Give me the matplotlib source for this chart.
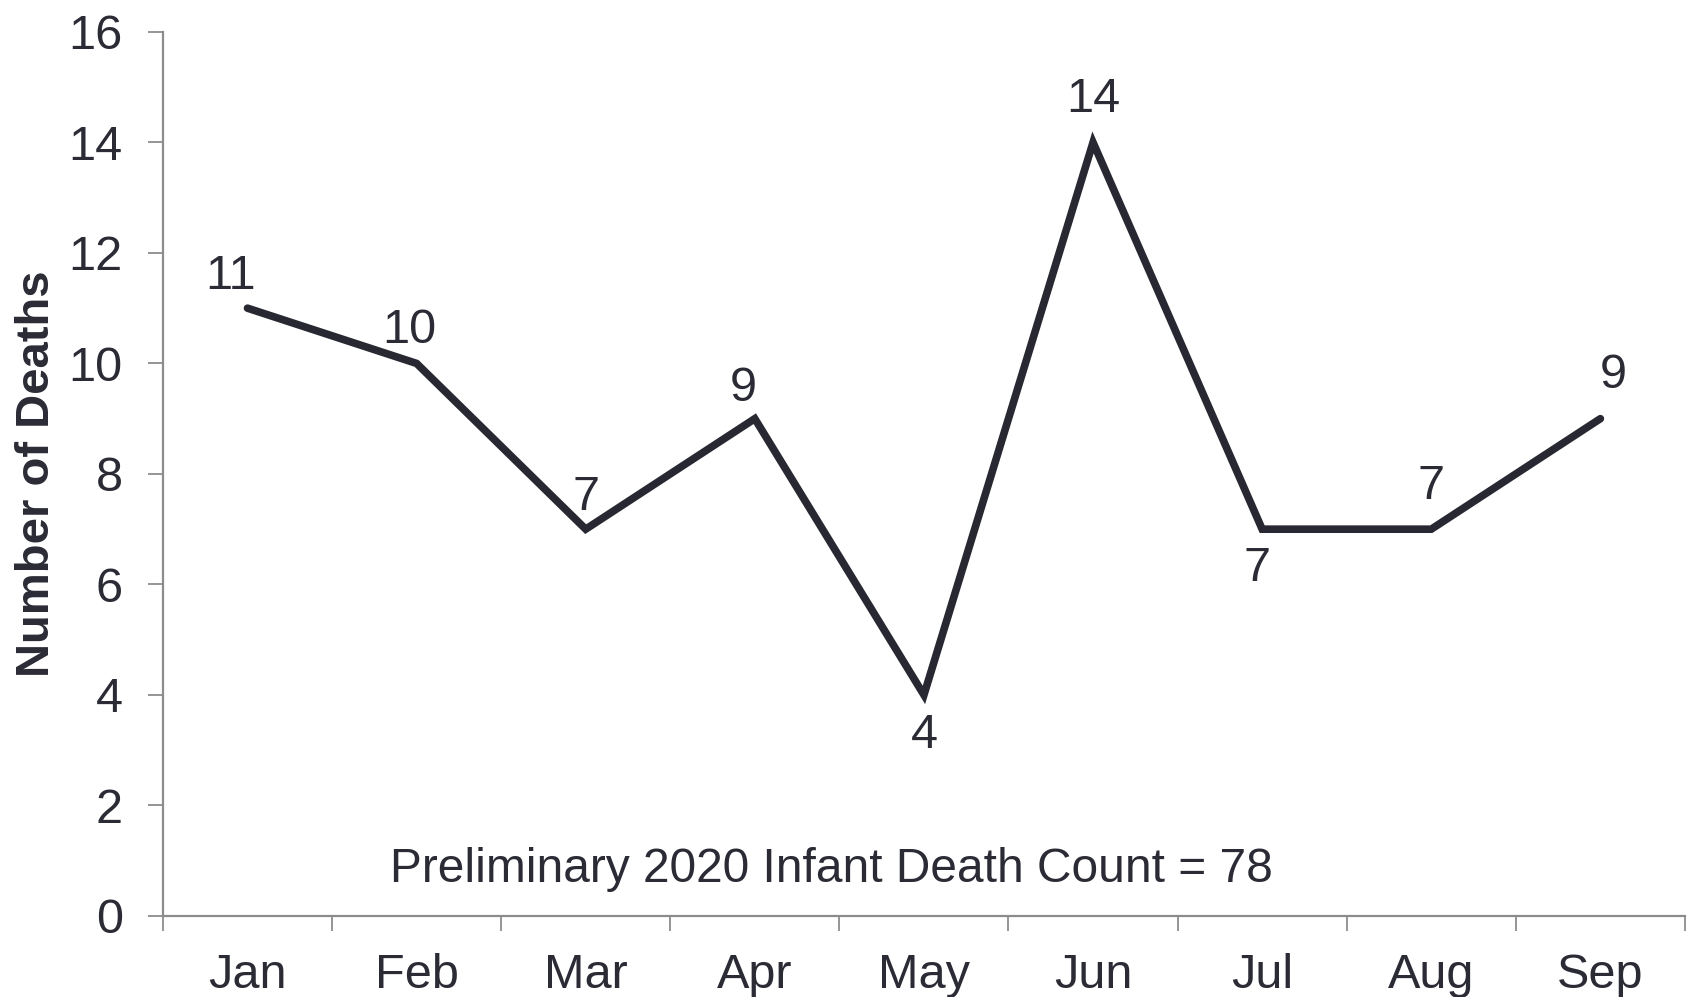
import matplotlib
matplotlib.use("Agg")
import matplotlib.pyplot as plt
import numpy as np

# 数据
months = ["Jan", "Feb", "Mar", "Apr", "May", "Jun", "Jul", "Aug", "Sep"]
deaths = [11, 10, 7, 9, 4, 14, 7, 7, 9]
yticks = [0, 2, 4, 6, 8, 10, 12, 14, 16]
note = "Preliminary 2020 Infant Death Count = 78"

# 标签偏移 (points)
label_offsets = [(-12, 23), (-5, 24), (0, 23), (-8, 22), (0, -29),
                 (0, 31), (-4, -28), (0, 31), (9, 31)]

plt.rcParams['font.family'] = ['Liberation Sans', 'DejaVu Sans']
text_color = "#2b2b36"
line_color = "#282833"
spine_color = "#8c8c8c"

fig = plt.figure(figsize=(16.9, 9.97), dpi=100)
ax = fig.add_axes([0.0964, 0.0813, 0.9006, 0.8867])

x = np.arange(len(months)) + 0.5
ax.plot(x, deaths, color=line_color, linewidth=5.5,
        solid_joinstyle="miter", solid_capstyle="round")

for xi, yi, (dx, dy) in zip(x, deaths, label_offsets):
    ax.annotate(str(yi), (xi, yi), xytext=(dx, dy), textcoords="offset points",
                ha="center", va="center", fontsize=35, color=text_color)

ax.set_xlim(0, len(months))
ax.set_ylim(0, 16)

# x轴: 刻度线在分界处, 标签在中间
ax.set_xticks(np.arange(len(months) + 1))
ax.set_xticklabels([])
ax.set_xticks(x, minor=True)
ax.set_xticklabels(months, minor=True)
ax.tick_params(axis="x", which="major", direction="out", length=10.5,
               width=1.3, color=spine_color)
ax.tick_params(axis="x", which="minor", length=0, pad=27,
               labelsize=35, labelcolor=text_color)

ax.set_yticks(yticks)
ax.tick_params(axis="y", direction="out", length=11, width=1.3,
               color=spine_color, pad=18, labelsize=35, labelcolor=text_color)

for s in ["top", "right"]:
    ax.spines[s].set_visible(False)
for s in ["left", "bottom"]:
    ax.spines[s].set_color(spine_color)
    ax.spines[s].set_linewidth(1.6)

ax.set_ylabel("Number of Deaths", fontsize=34, fontweight="bold",
              color=text_color)
ax.yaxis.set_label_coords(-0.068, 0.5)

ax.text(0.439, 0.053, note, transform=ax.transAxes, ha="center", va="center",
        fontsize=34.5, color=text_color)

plt.savefig("out.png", dpi=100)
